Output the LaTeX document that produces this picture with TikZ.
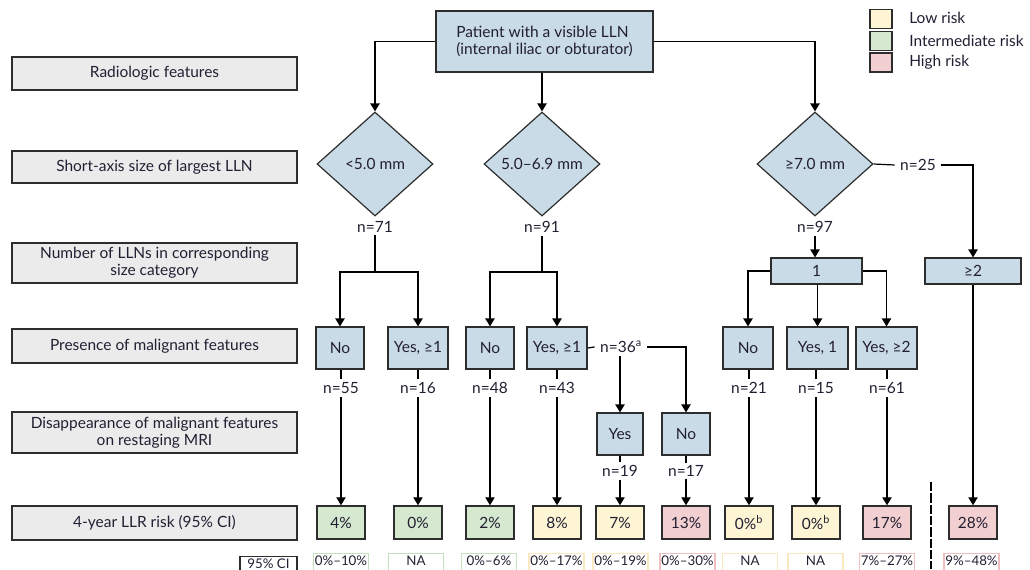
\documentclass[tikz,border=0pt]{standalone}
\usepackage{fontspec}
\setmainfont{Lato}
\usetikzlibrary{arrows.meta,shapes.geometric}
\definecolor{txt}{RGB}{35,31,50}
\definecolor{boxblue}{RGB}{201,219,230}
\definecolor{labgray}{RGB}{235,235,235}
\definecolor{lowc}{RGB}{253,245,212}
\definecolor{midc}{RGB}{213,232,208}
\definecolor{highc}{RGB}{242,207,208}
\definecolor{lowb}{RGB}{250,232,190}
\definecolor{midb}{RGB}{196,224,190}
\definecolor{highb}{RGB}{238,190,192}
\definecolor{edge}{RGB}{45,45,45}
\newcommand{\citext}[1]{\raisebox{2.6pt}[0pt][0pt]{#1}}
\begin{document}
\begin{tikzpicture}[x=0.75pt,y=-0.75pt,
  font=\fontsize{11.6}{13}\selectfont, text=txt,
  every node/.style={inner sep=0pt},
  base/.style={draw=edge, line width=0.9pt, align=center},
  labbox/.style={base, fill=labgray, minimum width=285*0.75pt},
  bbox/.style={base, fill=boxblue, minimum height=42*0.75pt},
  dia/.style={base, fill=boxblue, diamond, minimum width=116*0.75pt, minimum height=104*0.75pt},
  risk/.style={base, line width=1.1pt, minimum width=48*0.75pt, minimum height=33*0.75pt},
  ci/.style={draw, line width=0.8pt, minimum width=55*0.75pt, minimum height=30*0.75pt, font=\fontsize{10}{11}\selectfont, anchor=north},
  nlab/.style={inner sep=2pt},
  arr/.style={draw=black, line width=0.9pt, -{Triangle[width=7pt,length=6pt]}},
  ln/.style={draw=black, line width=0.9pt}
]
\useasboundingbox (0,0) rectangle (1030,569);
\begin{scope}
\clip (0,0) rectangle (1030,569);

% left labels
\node[labbox, minimum height=33*0.75pt] (L1) at (154.5,73.5) {Radiologic features};
\node[labbox, minimum height=32*0.75pt] (L2) at (154.5,167) {Short-axis size of largest LLN};
\node[labbox, minimum height=40*0.75pt] (L3) at (154.5,263) {Number of LLNs in corresponding\\size category};
\node[labbox, minimum height=34*0.75pt] (L4) at (154.5,346) {Presence of malignant features};
\node[labbox, minimum height=41*0.75pt] (L5) at (154.5,432.5) {Disappearance of malignant features\\on restaging MRI};
\node[labbox, minimum height=34*0.75pt] (L6) at (154.5,523) {4-year LLR risk (95\% CI)};
\node[ci, draw=edge, line width=0.9pt, minimum width=57*0.75pt] (ci0) at (268.5,556) {\citext{95\% CI}};

% top
\node[base, fill=boxblue, minimum width=217*0.75pt, minimum height=61*0.75pt, align=left] (top) at (544.5,41.5) {Patient with a visible LLN\\(internal iliac or obturator)};

% diamonds
\node[dia] (d1) at (375,164) {<5.0 mm};
\node[dia] (d2) at (542,164) {5.0–6.9 mm};
\node[dia] (d3) at (815,164) {≥7.0 mm};

\draw[arr] (top.west) -| (d1.north);
\draw[arr] (top.south -| d2.north) -- (d2.north);
\draw[arr] (top.east) -| (d3.north);

\node[nlab] (n71) at (375,227) {n=71};
\node[nlab] (n91) at (542,227) {n=91};
\node[nlab] (n97) at (815,227) {n=97};
\node[nlab, inner xsep=4pt] (n25) at (918,165) {n=25};

% number row
\node[base, fill=boxblue, minimum width=91*0.75pt, minimum height=26*0.75pt] (one) at (816.5,271) {1};
\node[base, fill=boxblue, minimum width=96*0.75pt, minimum height=26*0.75pt] (ge2) at (973,271) {≥2};

\draw[ln] (d3.east) -- (n25.west);
\draw[arr] (n25.east) -| (ge2.north);
\draw[arr] (n97.south) -- (n97.south |- one.north);

% presence row
\node[bbox, minimum width=48*0.75pt] (no1) at (340,348) {No};
\node[bbox, minimum width=60*0.75pt] (yes1) at (418,348) {Yes, ≥1};
\node[bbox, minimum width=48*0.75pt] (no2) at (490,348) {No};
\node[bbox, minimum width=60*0.75pt] (yes2) at (557,348) {Yes, ≥1};
\node[bbox, minimum width=50*0.75pt] (no3) at (748,348) {No};
\node[bbox, minimum width=61*0.75pt] (yes31) at (817.5,348) {Yes, 1};
\node[bbox, minimum width=61*0.75pt] (yes32) at (886.5,348) {Yes, ≥2};

\coordinate (j1) at (375,272);
\coordinate (j2) at (543,272);
\draw[ln] (n71.south) -- (n71.south |- j1);
\draw[ln] (n91.south) -- (n91.south |- j2);
\draw[arr] (j1) -| (no1.north);
\draw[arr] (j1) -| (yes1.north);
\draw[arr] (j2) -| (no2.north);
\draw[arr] (j2) -| (yes2.north);
\draw[arr] (one.west) -| (no3.north);
\draw[arr] (one.south -| yes31.north) -- (yes31.north);
\draw[arr] (one.east) -| (yes32.north);

% n labels under presence
\node[nlab] (n55) at (341,388) {n=55};
\node[nlab] (n16) at (418,388) {n=16};
\node[nlab] (n48) at (490,388) {n=48};
\node[nlab] (n43) at (557,388) {n=43};
\node[nlab] (n21) at (749,388) {n=21};
\node[nlab] (n15) at (816,388) {n=15};
\node[nlab] (n61) at (887,388) {n=61};
\node[nlab, inner xsep=4pt] (n36) at (621,347) {n=36\textsuperscript{a}};

\foreach \b/\n in {no1/n55,yes1/n16,no2/n48,yes2/n43,no3/n21,yes31/n15,yes32/n61}
  \draw[ln] (\n.north |- \b.south) -- (\n.north);

% restaging
\node[bbox, minimum width=46*0.75pt] (ry) at (620,434) {Yes};
\node[bbox, minimum width=48*0.75pt] (rn) at (686,434) {No};
\draw[ln] (yes2.east) -- (n36.west);
\draw[arr] (n36.east) -| (rn.north);
\draw[arr] (n36.south -| ry.north) -- (ry.north);
\node[nlab] (n19) at (620,471) {n=19};
\node[nlab] (n17) at (686,471) {n=17};
\draw[ln] (ry.south) -- (n19.north);
\draw[ln] (rn.south) -- (n17.north);

% risk boxes
\node[risk, fill=midc] (r1) at (341,522.5) {4\%};
\node[risk, fill=midc] (r2) at (418,522.5) {0\%};
\node[risk, fill=midc] (r3) at (490,522.5) {2\%};
\node[risk, fill=lowc] (r4) at (557,522.5) {8\%};
\node[risk, fill=lowc] (r5) at (620,522.5) {7\%};
\node[risk, fill=highc] (r6) at (686,522.5) {13\%};
\node[risk, fill=lowc] (r7) at (749,522.5) {0\%\textsuperscript{b}};
\node[risk, fill=lowc] (r8) at (816,522.5) {0\%\textsuperscript{b}};
\node[risk, fill=highc] (r9) at (887,522.5) {17\%};
\node[risk, fill=highc] (r10) at (973,522.5) {28\%};

\foreach \n/\r in {n55/r1,n16/r2,n48/r3,n43/r4,n19/r5,n17/r6,n21/r7,n15/r8,n61/r9}
  \draw[arr] (\n.south) -- (\n.south |- \r.north);
\draw[arr] (ge2.south) -- (ge2.south |- r10.north);

% CI boxes
\node[ci, draw=midb] (c1) at (341,553) {\citext{0\%–10\%}};
\node[ci, draw=midb] (c2) at (416,553) {\citext{NA}};
\node[ci, draw=midb] (c3) at (489,553) {\citext{0\%–6\%}};
\node[ci, draw=lowb] (c4) at (556.5,553) {\citext{0\%–17\%}};
\node[ci, draw=lowb] (c5) at (620.5,553) {\citext{0\%–19\%}};
\node[ci, draw=highb] (c6) at (687.5,553) {\citext{0\%–30\%}};
\node[ci, draw=lowb] (c7) at (750,553) {\citext{NA}};
\node[ci, draw=lowb] (c8) at (815.5,553) {\citext{NA}};
\node[ci, draw=highb] (c9) at (887,553) {\citext{7\%–27\%}};
\node[ci, draw=highb] (c10) at (971.5,553) {\citext{9\%–48\%}};

% dashed separator
\coordinate (s1) at (931,482);
\coordinate (s2) at (931,569);
\draw[line width=0.9pt, dash pattern=on 7pt off 1.5pt] (s1) -- (s2);

% legend
\node[base, line width=1pt, fill=lowc, minimum width=22*0.75pt, minimum height=19*0.75pt] (lg1) at (881,19) {};
\node[base, line width=1pt, fill=midc, minimum width=22*0.75pt, minimum height=19*0.75pt] (lg2) at (881,41) {};
\node[base, line width=1pt, fill=highc, minimum width=22*0.75pt, minimum height=19*0.75pt] (lg3) at (881,62.5) {};
\node[anchor=west] (lt1) at (909,18) {Low risk};
\node[anchor=west] (lt2) at (909,41) {Intermediate risk};
\node[anchor=west] (lt3) at (909,62) {High risk};
\end{scope}
\end{tikzpicture}
\end{document}
